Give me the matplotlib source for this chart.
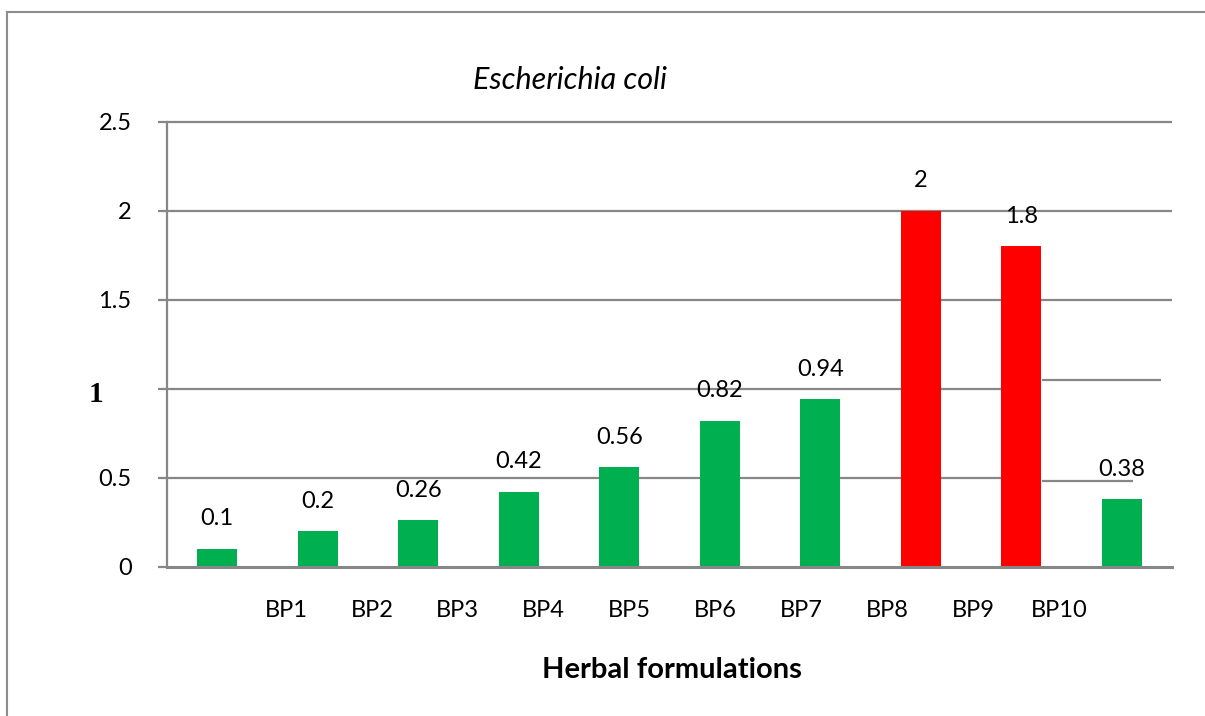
import numpy as np
import matplotlib
matplotlib.use("Agg")
from matplotlib import pyplot as plt
from matplotlib.lines import Line2D

plt.rcParams['font.family'] = ['Lato', 'DejaVu Sans']

# data
formulations = ['BP1', 'BP2', 'BP3', 'BP4', 'BP5', 'BP6', 'BP7', 'BP8', 'BP9', 'BP10']
values = [0.1, 0.2, 0.26, 0.42, 0.56, 0.82, 0.94, 2.0, 1.8, 0.38]
value_labels = ['0.1', '0.2', '0.26', '0.42', '0.56', '0.82', '0.94', '2', '1.8', '0.38']
bar_colors = ['#00B050'] * 7 + ['#FF0000'] * 2 + ['#00B050']
yticks = [0, 0.5, 1, 1.5, 2, 2.5]
ytick_labels = ['0', '0.5', '', '1.5', '2', '2.5']

grid_c = '#878787'

fig = plt.figure(figsize=(12.05, 7.16), dpi=100)
ax = fig.add_axes([167/1205, 1-566.7/716, (1172-167)/1205, (566.7-121.7)/716])

x = np.arange(len(values))
ax.set_xlim(-0.5, 9.5)
ax.set_ylim(0, 2.5)

# gridlines (the 0.5 and 1 lines are broken after BP9 in the original)
for yv in [1.5, 2, 2.5]:
    ax.hlines(yv, -0.5, 9.5, color=grid_c, lw=1.6, zorder=1, clip_on=False)
for yv in [0.5, 1]:
    ax.hlines(yv, -0.5, 8.0, color=grid_c, lw=1.6, zorder=1)
ax.hlines(1.049, 8.21, 9.39, color=grid_c, lw=1.6, zorder=1)
ax.hlines(0.481, 8.21, 9.11, color=grid_c, lw=1.6, zorder=1)

bars = ax.bar(x, values, width=0.4, color=bar_colors, zorder=2)

for xi, v, lab in zip(x, values, value_labels):
    ax.annotate(lab, xy=(xi, v), xytext=(0, 30), textcoords='offset pixels',
                ha='center', va='center', fontsize=17, color='black')

# axes styling
for s in ['top', 'right']:
    ax.spines[s].set_visible(False)
ax.spines['left'].set_color(grid_c)
ax.spines['left'].set_linewidth(1.6)
ax.spines['bottom'].set_color(grid_c)
ax.spines['bottom'].set_linewidth(2.2)
ax.spines['bottom'].set_zorder(3)

ax.set_yticks(yticks)
ax.set_yticklabels(ytick_labels, fontsize=17)
ax.tick_params(axis='y', length=6.5, width=1.6, color=grid_c, pad=19)

ax.annotate('1', xy=(0, 1), xycoords=('axes fraction', 'data'),
            xytext=(-64, -6), textcoords='offset pixels', ha='right', va='center',
            fontsize=21, fontweight='bold', family='Liberation Serif', annotation_clip=False)

tick_pos = np.linspace(0.684, 8.376, len(formulations))
ax.set_xticks(tick_pos)
ax.set_xticklabels(formulations, fontsize=17)
ax.tick_params(axis='x', length=0, pad=24)

fig.text(672/1205, 1-670/716, 'Herbal formulations', ha='center', va='center',
         fontsize=21, fontweight='bold')
fig.text(570/1205, 1-80/716, 'Escherichia coli', ha='center', va='center',
         fontsize=22, style='italic')

# outer frame
fig.add_artist(Line2D([7/1205, 7/1205], [0, 1-12/716], color='#8c8c8c', lw=1.5))
fig.add_artist(Line2D([7/1205, 1], [1-12/716, 1-12/716], color='#8c8c8c', lw=1.5))

fig.savefig('out.png', dpi=100)
